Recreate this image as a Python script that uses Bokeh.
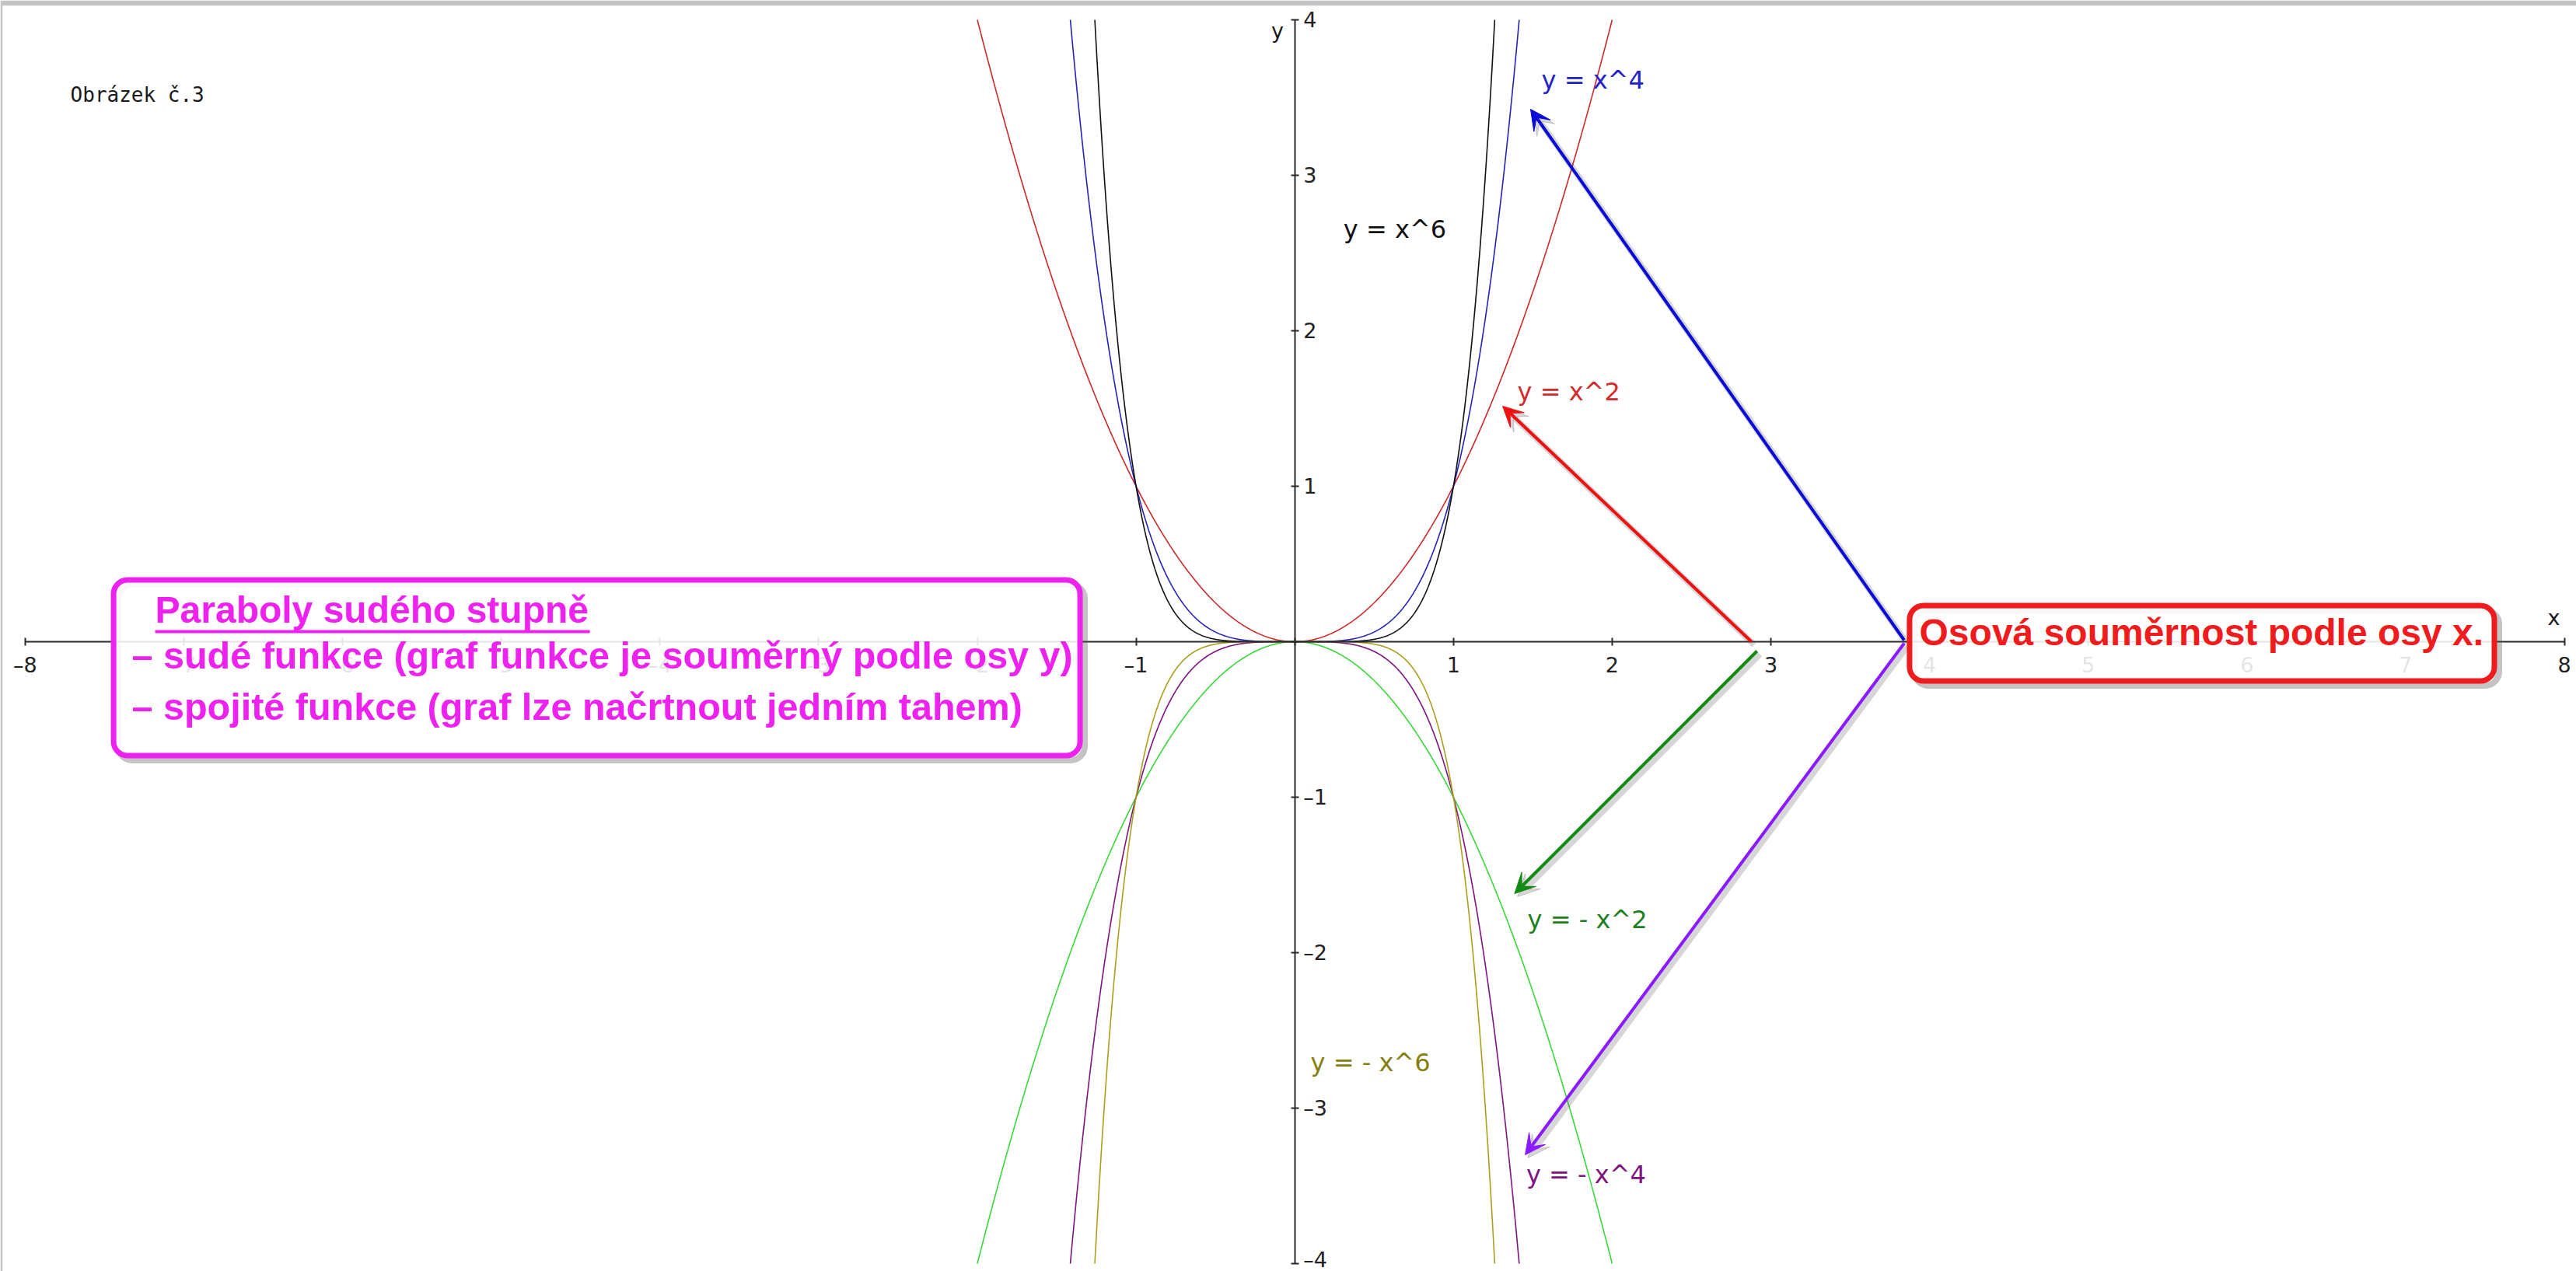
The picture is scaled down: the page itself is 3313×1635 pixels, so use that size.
import numpy as np
from bokeh.plotting import figure
from bokeh.models import Range1d, FixedTicker, Arrow, VeeHead
from bokeh.core.properties import value
from bokeh.embed import file_html
from bokeh.resources import INLINE

# ---------------- data ----------------
EXPONENTS = [2, 4, 6, 2, 4, 6]
SIGNS = [1, 1, 1, -1, -1, -1]
CURVE_COLORS = ["#cc2a2a", "#2323b8", "#111111", "#3ad83a", "#7e157e", "#aaa020"]
Y_LIMIT = 4

X_TICKS = list(range(-8, 9))
Y_TICKS = list(range(-4, 5))

LABEL_TEXTS = ["y = x^4", "y = x^6", "y = x^2", "y = - x^2", "y = - x^6", "y = - x^4"]
LABEL_X = [1.555, 0.307, 1.403, 1.467, 0.10, 1.459]
LABEL_Y = [3.55, 2.59, 1.545, -1.853, -2.77, -3.49]
LABEL_COLORS = ["#2323c8", "#111111", "#d42a2a", "#1f7f1f", "#857f10", "#7e157e"]

ARROW_X0 = [2.878, 2.913, 3.84, 3.84]
ARROW_Y0 = [0.0, -0.06, 0.01, -0.01]
ARROW_X1 = [1.31, 1.385, 1.486, 1.452]
ARROW_Y1 = [1.515, -1.62, 3.425, -3.30]
ARROW_COLORS = ["#ee1111", "#138a13", "#0a0ad8", "#8a1aff"]

BOX_LEFT = [-7.443, 3.874]
BOX_RIGHT = [-1.353, 7.559]
BOX_TOP = [0.3975, 0.2325]
BOX_BOTTOM = [-0.7325, -0.2525]
BOX_COLORS = ["#ee22ee", "#ee1c1c"]

BOX_TEXTS = ["Paraboly sudého stupně",
             "– sudé funkce (graf funkce je souměrný podle osy y)",
             "– spojité funkce (graf lze načrtnout jedním tahem)",
             "Osová souměrnost podle osy x."]
BOX_TEXT_X = [-7.181, -7.328, -7.328, 3.936]
BOX_TEXT_Y = [0.11, -0.185, -0.515, -0.035]
BOX_TEXT_COLORS = ["#ee22ee", "#ee22ee", "#ee22ee", "#ee1c1c"]
BOX_TEXT_PX = [48, 48.5, 48.5, 48]

UNDERLINE_X = [-7.181, -4.442]
UNDERLINE_Y = 0.065

CAPTION = "Obrázek č.3"
CAPTION_XY = (-7.715, 3.465)
AXIS_NAMES = ["x", "y"]
AXIS_NAME_X = [7.895, -0.07]
AXIS_NAME_Y = [0.10, 3.875]

# ---------------- figure ----------------
W, H = 3313, 1635
TOP_BAR, LEFT_BAR = 7, 3
SX, SY = 204.1, 200.0
x_left = (LEFT_BAR - 1664.7) / SX
y_top = (825 - TOP_BAR) / SY
BASE_FIX = 0.4   # baseline correction, in em

def lift(ys, px):
    return [y + BASE_FIX * px / SY for y in ys]

p = figure(width=W, height=H,
           x_range=Range1d(x_left, x_left + (W - LEFT_BAR) / SX),
           y_range=Range1d(y_top - (H - TOP_BAR) / SY, y_top),
           output_backend="svg", toolbar_location=None,
           y_axis_location="right", x_axis_location="below",
           min_border=0, min_border_top=TOP_BAR, min_border_left=LEFT_BAR)
p.outline_line_color = None
p.grid.visible = False
p.background_fill_color = "white"
p.border_fill_color = "#c4c4c4"

def fmt(t):
    if t == 0:
        return ""
    return ("–" + str(-t)) if t < 0 else str(t)

xa = p.xaxis[0]
ya = p.yaxis[0]
xa.ticker = FixedTicker(ticks=X_TICKS)
ya.ticker = FixedTicker(ticks=Y_TICKS)
xa.bounds = (-8, 8)
ya.bounds = (-4, 4)
xa.major_label_overrides = {t: fmt(t) for t in X_TICKS}
ya.major_label_overrides = {t: fmt(t) for t in Y_TICKS}
for ax in (xa, ya):
    ax.fixed_location = 0
    ax.axis_line_color = "#2a2a2a"
    ax.axis_line_width = 2
    ax.major_tick_line_color = "#2a2a2a"
    ax.major_tick_line_width = 2
    ax.major_tick_in = 5
    ax.major_tick_out = 5
    ax.minor_tick_line_color = None
    ax.major_label_text_font = "DejaVu Sans"
    ax.major_label_text_font_size = "27px"
    ax.major_label_text_color = "#222222"
xa.major_label_standoff = 9
ya.major_label_standoff = 6

# curves
for n, s, c in zip(EXPONENTS, SIGNS, CURVE_COLORS):
    xmax = Y_LIMIT ** (1.0 / n)
    xs = np.linspace(-xmax, xmax, 801)
    p.line(xs, s * xs ** n, line_color=c, line_width=1.6)

# curve labels
p.text(x=LABEL_X, y=lift(LABEL_Y, 32), text=LABEL_TEXTS, text_color=LABEL_COLORS,
       text_font=value("DejaVu Sans"), text_font_size="32px",
       text_align="left", text_baseline="alphabetic")

# caption and axis names
p.text(x=[CAPTION_XY[0]], y=lift([CAPTION_XY[1]], 26), text=[CAPTION], text_color="#1a1a1a",
       text_font=value("DejaVu Sans Mono"), text_font_size="26px",
       text_align="left", text_baseline="alphabetic")
p.text(x=AXIS_NAME_X, y=lift(AXIS_NAME_Y, 27), text=AXIS_NAMES, text_color="#1a1a1a",
       text_font=value("DejaVu Sans"), text_font_size="27px",
       text_align=["left", "right"], text_baseline="alphabetic")

# arrows (with soft shadows)
for x0, y0, x1, y1, c in zip(ARROW_X0, ARROW_Y0, ARROW_X1, ARROW_Y1, ARROW_COLORS):
    p.add_layout(Arrow(x_start=x0 + 0.018, y_start=y0 - 0.02, x_end=x1 + 0.018, y_end=y1 - 0.02,
                       line_color="#444444", line_alpha=0.22, line_width=8,
                       end=VeeHead(size=28, fill_color="#444444", fill_alpha=0.22,
                                   line_color="#444444", line_alpha=0.22)))
    p.add_layout(Arrow(x_start=x0, y_start=y0, x_end=x1, y_end=y1,
                       line_color=c, line_width=4,
                       end=VeeHead(size=26, fill_color=c, line_color=c, line_width=1)))

# boxes (shadow then box)
dxs, dys = 6 / SX, 6 / SY
p.quad(left=[l + dxs for l in BOX_LEFT], right=[r + dxs for r in BOX_RIGHT],
       top=[t - dys for t in BOX_TOP], bottom=[b - dys for b in BOX_BOTTOM],
       fill_color=None, line_color="#555555", line_alpha=0.35, line_width=8,
       border_radius=18, level="overlay")
p.quad(left=BOX_LEFT, right=BOX_RIGHT, top=BOX_TOP, bottom=BOX_BOTTOM,
       fill_color="white", fill_alpha=0.88, line_color=BOX_COLORS, line_width=7,
       border_radius=18, level="overlay")

for tx, ty, tt, tc, px in zip(BOX_TEXT_X, BOX_TEXT_Y, BOX_TEXTS, BOX_TEXT_COLORS, BOX_TEXT_PX):
    p.text(x=[tx], y=lift([ty], px), text=[tt], text_color=tc,
           text_font=value("Liberation Sans"), text_font_style="bold",
           text_font_size=f"{px}px", text_align="left", text_baseline="alphabetic",
           level="overlay")
p.segment(x0=[UNDERLINE_X[0]], y0=[UNDERLINE_Y], x1=[UNDERLINE_X[1]], y1=[UNDERLINE_Y],
          line_color="#ee22ee", line_width=4, level="overlay")

open("out.html", "w").write(file_html(p, INLINE))
